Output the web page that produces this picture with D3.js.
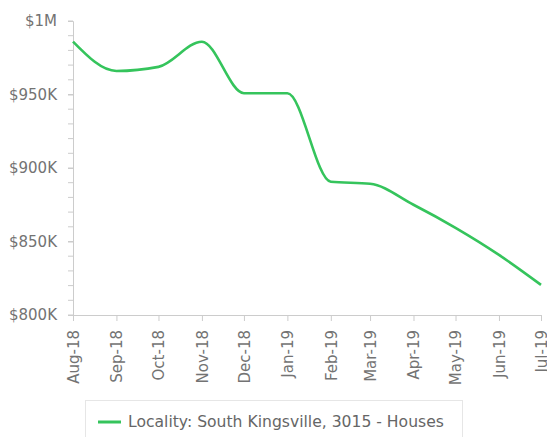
<!DOCTYPE html>
<html><head><meta charset="utf-8">
<script src="https://cdn.jsdelivr.net/npm/d3@7"></script>
<style>body{margin:0;background:#fff;}svg{display:block;font-family:"DejaVu Sans",sans-serif;}</style>
</head><body>
<svg id="c" width="547" height="437"></svg>
<script>
const months = ["2018-08-01","2018-09-01","2018-10-01","2018-11-01","2018-12-01","2019-01-01","2019-02-01","2019-03-01","2019-04-01","2019-05-01","2019-06-01","2019-07-01"];
const values = [986000,966000,968800,985900,950900,950800,890600,889300,875000,859300,840900,820500];
const yTicks = [800000,850000,900000,950000,1000000];
const yTickLabels = ["$800K","$850K","$900K","$950K","$1M"];
const seriesName = "Locality: South Kingsville, 3015 - Houses";

const svg = d3.select("#c");
const parse = d3.timeParse("%Y-%m-%d");
const dates = months.map(parse);
const data = dates.map((d,i)=>({d, v: values[i]}));
const x = d3.scaleTime().domain([dates[0], dates[dates.length-1]]).range([73,541]);
const y = d3.scaleLinear().domain([800000,1000000]).range([315,21]);
const axisColor = "#ccc", textColor = "#737373";
const lineColor = "#35c45c";

// minor y ticks
const minor = d3.range(800000,1000001,10000);
svg.append("g").selectAll("line").data(minor).join("line")
  .attr("x1",68).attr("x2",73).attr("y1",d=>y(d)).attr("y2",d=>y(d))
  .attr("stroke",axisColor).attr("stroke-width",1);

const yAxis = svg.append("g").attr("transform","translate(73,0)")
  .call(d3.axisLeft(y).tickValues(yTicks).tickFormat((d,i)=>yTickLabels[i]).tickSize(5).tickPadding(11));
yAxis.select(".domain").attr("stroke",axisColor);
yAxis.selectAll(".tick line").attr("stroke",axisColor);
yAxis.selectAll("text").attr("fill",textColor).style("font-size","15px").style("font-family","DejaVu Sans");

const xAxis = svg.append("g").attr("transform","translate(0,315)")
  .call(d3.axisBottom(x).tickValues(dates).tickFormat(d3.timeFormat("%b-%y")).tickSize(6).tickSizeOuter(0));
xAxis.select(".domain").attr("stroke",axisColor);
xAxis.selectAll(".tick line").attr("stroke",axisColor);
xAxis.selectAll("text").attr("fill",textColor).style("font-size","15px").style("font-family","DejaVu Sans")
  .attr("transform","rotate(-90)").attr("text-anchor","end").attr("x",-15).attr("y",0).attr("dy","0.35em");

const line = d3.line().x(d=>x(d.d)).y(d=>y(d.v)).curve(d3.curveMonotoneX);
svg.append("path").datum(data).attr("d",line).attr("fill","none")
  .attr("stroke",lineColor).attr("stroke-width",2.6).attr("stroke-linejoin","round");

// legend
const lg = svg.append("g");
lg.append("rect").attr("x",85.5).attr("y",400.5).attr("width",377).attr("height",50)
  .attr("fill","#fff").attr("stroke","#e6e6e6");
lg.append("line").attr("x1",98).attr("x2",121).attr("y1",422).attr("y2",422)
  .attr("stroke",lineColor).attr("stroke-width",3);
lg.append("text").attr("x",128).attr("y",422).attr("dy","0.35em").attr("fill","#666")
  .style("font-size","15.6px").style("font-family","DejaVu Sans").text(seriesName);
</script>
</body></html>
